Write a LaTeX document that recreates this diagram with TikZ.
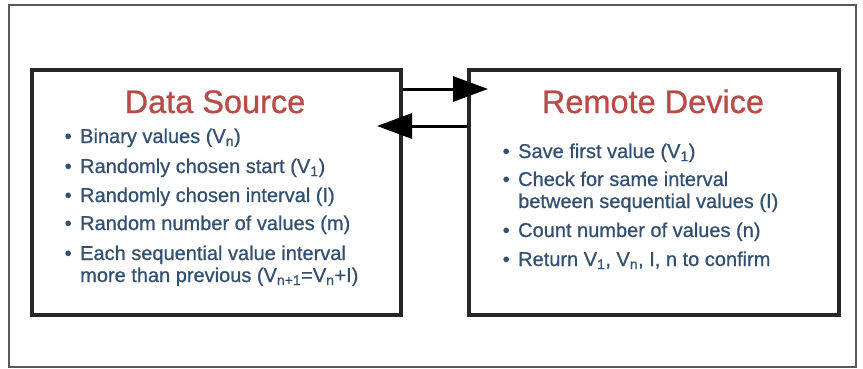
\documentclass[tikz,border=0pt]{standalone}
\usepackage{fontspec}
\setmainfont{Liberation Sans}
\newfontfamily\medsans[FakeBold=0.8]{Liberation Sans}
\usetikzlibrary{arrows.meta,positioning}
\definecolor{titlered}{RGB}{184,74,72}
\definecolor{itemblue}{RGB}{52,80,112}
\newcommand{\bul}{\makebox[15.5pt][l]{\textbullet}}
\tikzset{
	panel/.style={draw=black!85, line width=3.8pt, minimum width=369pt, minimum height=245pt, inner sep=0, anchor=north west},
	heading/.style={text=titlered, font=\medsans\fontsize{32.5}{36}\selectfont, inner sep=0, anchor=base},
	point/.style={text=itemblue, font=\medsans\fontsize{20}{22}\selectfont, inner sep=0, anchor=base west, align=left},
	link/.style={line width=3pt, -{Triangle[length=35pt,width=25pt]}}
}
\begin{document}
\begin{tikzpicture}[x=1pt,y=-1pt]
	\useasboundingbox (0,0) rectangle (863,368);
	\draw [black!65, line width=1.2pt] (9,5) rectangle (856,367);
	\node [panel] (src) at (30,68) {};
	\node [panel, minimum width=370pt] (dev) at (467,68) {};
	\node [heading] (srctitle) at (215,113) {Data Source};
	\node [heading] (devtitle) at (653,113) {Remote Device};
	% source items (two-line items sit on their last line)
	\node [point] (s1) at (64.5,143) {\bul Binary values (V\textsubscript{n})};
	\node [point] (s2) at (64.5,173) {\bul Randomly chosen start (V\textsubscript{1})};
	\node [point] (s3) at (64.5,202) {\bul Randomly chosen interval (I)};
	\node [point] (s4) at (64.5,230) {\bul Random number of values (m)};
	\node [point] (s5) at (64.5,282) {\bul Each sequential value interval\\\hspace*{15.5pt}more than previous (V\textsubscript{n+1}=V\textsubscript{n}+I)};
	% device items
	\node [point] (d1) at (502.5,158) {\bul Save first value (V\textsubscript{1})};
	\node [point] (d2) at (502.5,208) {\bul Check for same interval\\\hspace*{15.5pt}between sequential values (I)};
	\node [point] (d3) at (502.5,237) {\bul Count number of values (n)};
	\node [point] (d4) at (502.5,266) {\bul Return V\textsubscript{1}, V\textsubscript{n}, I, n to confirm};
	% arrows
	\coordinate (tipa) at (488,89);
	\coordinate (tipb) at (377,126);
	\draw [link] (src.east |- tipa) -- (tipa);
	\draw [link] (dev.west |- tipb) -- (tipb);
\end{tikzpicture}
\end{document}
